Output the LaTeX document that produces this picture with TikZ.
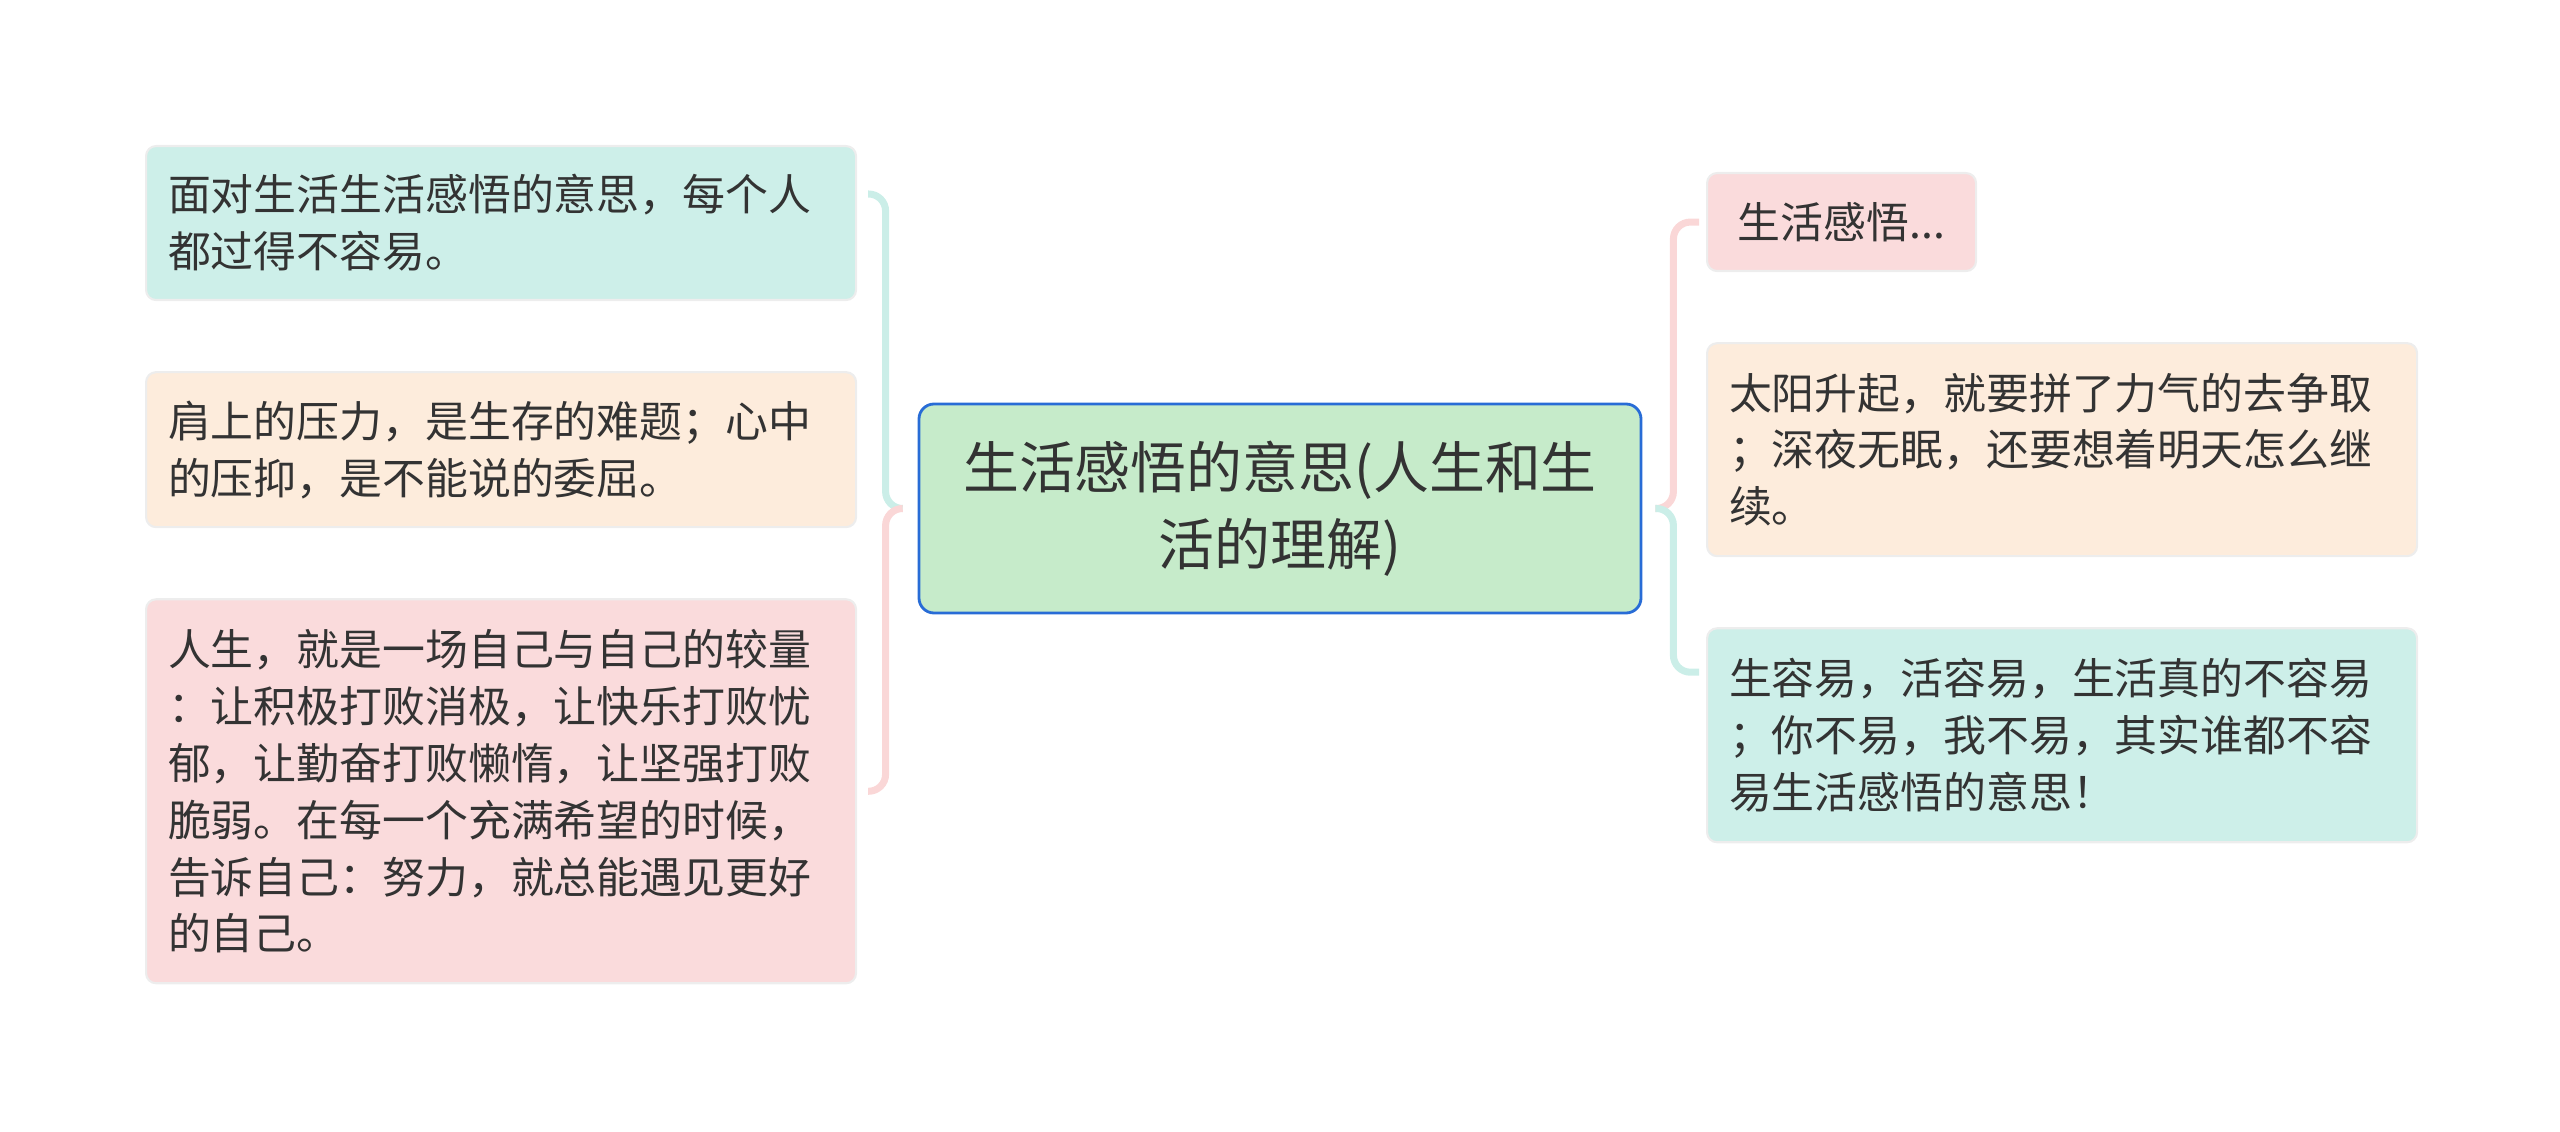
\documentclass[tikz,border=0pt]{standalone}
\usepackage{fontspec}
\newfontfamily\cjk{Noto Sans CJK SC}
\usetikzlibrary{positioning}
\definecolor{softteal}{RGB}{205,239,233}
\definecolor{softpeach}{RGB}{253,236,220}
\definecolor{softpink}{RGB}{250,219,220}
\definecolor{softgreen}{RGB}{198,235,202}
\definecolor{rootblue}{RGB}{40,108,214}
\definecolor{linkteal}{RGB}{203,238,232}
\definecolor{linkpink}{RGB}{250,215,215}
\definecolor{inkgray}{RGB}{51,51,51}

\begin{document}
\begin{tikzpicture}[every node/.style={font=\cjk,text=inkgray},
  tag/.style={draw=black!7,line width=0.6pt,rounded corners=0.1cm,font=\cjk\fontsize{12.2pt}{16.2pt}\selectfont,anchor=north west},
  leaf/.style={tag,align=left,text width=6.66cm,inner xsep=0.22cm},
  link/.style={line width=2pt,rounded corners=0.17cm}]
\useasboundingbox (0,0) rectangle (25.6,-11.32);
\node[draw=rootblue,line width=0.8pt,fill=softgreen,rounded corners=0.15cm,align=center,minimum width=7.22cm,minimum height=2.09cm,font=\cjk\fontsize{15.9pt}{21.9pt}\selectfont] (root) at (12.80,-5.085) {生活感悟的意思(人生和生\\活的理解)};
% left side
\node[leaf,fill=softteal,minimum height=1.54cm] (b1) at (1.45,-1.45) {面对生活生活感悟的意思，每个人\\都过得不容易。};
\node[leaf,fill=softpeach,minimum height=1.55cm,below=0.70cm of b1.south west,anchor=north west] (b2) {肩上的压力，是生存的难题；心中\\的压抑，是不能说的委屈。};
\node[leaf,fill=softpink,minimum height=3.84cm,below=0.70cm of b2.south west,anchor=north west] (b3) {人生，就是一场自己与自己的较量\\：让积极打败消极，让快乐打败忧\\郁，让勤奋打败懒惰，让坚强打败\\脆弱。在每一个充满希望的时候，\\告诉自己：努力，就总能遇见更好\\的自己。};
\coordinate (lj) at ([xshift=-0.15cm]root.west);
\coordinate (lv) at ([xshift=-0.32cm]root.west);
\coordinate (e1) at ([xshift=0.11cm,yshift=-0.49cm]b1.north east);
\coordinate (e3) at ([xshift=0.11cm]b3.east);
\draw[link,linkteal] (lj) -| (lv |- e1) -- (e1);
\draw[link,linkpink] (lj) -| (lv |- e3) -- (e3);
% right side
\node[tag,fill=softpink,align=center,minimum width=2.69cm,minimum height=0.98cm] (r1) at (17.06,-1.72) {生活感悟...};
\node[leaf,fill=softpeach,minimum height=2.13cm,below=0.70cm of r1.south west,anchor=north west] (r2) {太阳升起，就要拼了力气的去争取\\；深夜无眠，还要想着明天怎么继\\续。};
\node[leaf,fill=softteal,minimum height=2.14cm,below=0.70cm of r2.south west,anchor=north west] (r3) {生容易，活容易，生活真的不容易\\；你不易，我不易，其实谁都不容\\易生活感悟的意思！};
\coordinate (rj) at ([xshift=0.13cm]root.east);
\coordinate (rv) at ([xshift=0.31cm]root.east);
\coordinate (e4) at ([xshift=-0.07cm]r1.west);
\coordinate (e6) at ([xshift=-0.07cm,yshift=-0.45cm]r3.north west);
\draw[link,linkpink] (rj) -| (rv |- e4) -- (e4);
\draw[link,linkteal] (rj) -| (rv |- e6) -- (e6);
\end{tikzpicture}
\end{document}
